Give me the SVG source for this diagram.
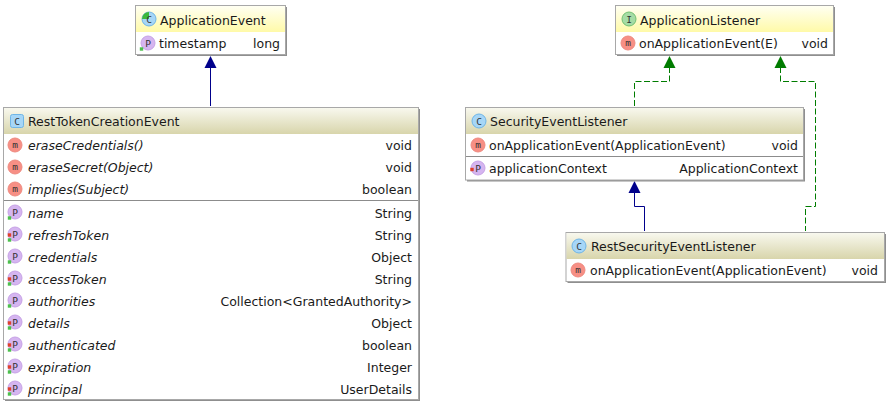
<svg xmlns="http://www.w3.org/2000/svg" width="889" height="406" viewBox="0 0 889 406">
<style>
text{font-family:"DejaVu Sans","Liberation Sans",sans-serif;font-size:12.5px;fill:#1a1a1a}
.i{font-style:italic}
.r{text-anchor:end}
.b{fill:#fff;stroke:#a8a8a8;stroke-width:1}
.sh{fill:#8f8f8f}
.sep{stroke:#8c8c8c;stroke-width:1}
text.ic{font-family:"DejaVu Sans Mono","Liberation Mono",monospace;font-size:9.500px;text-anchor:middle;fill:#333}
.blue{stroke:#00008b;fill:none;stroke-width:1}
.green{stroke:#007c00;fill:none;stroke-width:1;stroke-dasharray:6 2.500}
</style>
<defs>
<linearGradient id="y" x1="0" y1="0" x2="0" y2="1"><stop offset="0" stop-color="#fffff2"/><stop offset="1" stop-color="#fffaa8"/></linearGradient>
<linearGradient id="k" x1="0" y1="0" x2="0" y2="1"><stop offset="0" stop-color="#f8f8ee"/><stop offset="1" stop-color="#d8d5ab"/></linearGradient>
<g id="m"><circle r="7" fill="#f78f85" stroke="#ee8a80"/><text class="ic" y="3">m</text></g>
<g id="p"><circle r="7" fill="#d5b5f0" stroke="#c7a2e6"/><text class="ic" y="3.500">P</text></g>
<g id="c"><circle r="7" fill="#a6d6f7" stroke="#6fb5e6"/><text class="ic" y="3.500">C</text></g>
<rect id="pub" x="-1.700" y="-1.700" width="3.400" height="3.400" fill="#4cc04c"/>
<rect id="prv" x="-1.700" y="-1.700" width="3.400" height="3.400" fill="#e0402c"/>
<path id="blueh" d="M0 0l6 12h-12z" fill="#00008b"/>
<path id="greenh" d="M0 0l6 12h-12z" fill="#007c00"/>
</defs>
<g id="connectors">
<path class="blue" d="M210.500 67V106"/><use href="#blueh" x="210.500" y="56"/>
<path class="green" d="M669.500 67V81.500H634.500V107"/><use href="#greenh" x="669.500" y="56"/>
<path class="green" d="M780.500 67V81.500H815.500V206.500H805.500V231"/><use href="#greenh" x="780.500" y="56"/>
<path class="blue" d="M634.500 192V206.500H644.500V231"/><use href="#blueh" x="634.500" y="181"/>
</g>
<g id="ApplicationEvent">
<rect class="sh" x="137" y="7" width="150" height="49"/>
<rect class="b" x="135.500" y="5.500" width="150" height="49"/>
<rect x="136" y="6" width="149" height="26" fill="url(#y)"/>
<circle cx="149" cy="19" r="7" fill="#a6d6f7" stroke="#6fb5e6"/><path d="M149 12a7 7 0 0 0-7 7h7z" fill="#3cb83c"/><text class="ic" x="149" y="22.500">C</text>
<text x="160" y="25">ApplicationEvent</text>
<use href="#p" x="148" y="43"/><use href="#pub" x="141.500" y="49"/>
<text x="159" y="48">timestamp</text><text class="r" x="280" y="48">long</text>
</g>
<g id="ApplicationListener">
<rect class="sh" x="617" y="7" width="218" height="49"/>
<rect class="b" x="615.500" y="5.500" width="218" height="49"/>
<rect x="616" y="6" width="217" height="26" fill="url(#y)"/>
<circle cx="629" cy="19" r="7" fill="#a5dca5" stroke="#72c072"/><text class="ic" x="629" y="22.500">I</text>
<text x="640" y="25">ApplicationListener</text>
<use href="#m" x="628" y="43"/>
<text x="639" y="48">onApplicationEvent(E)</text><text class="r" x="828" y="48">void</text>
</g>
<g id="RestTokenCreationEvent">
<rect class="sh" x="5" y="109" width="415" height="292"/>
<rect class="b" x="3.500" y="107.500" width="415" height="292"/>
<rect x="4" y="108" width="414" height="26" fill="url(#k)"/>
<rect x="10.500" y="114.500" width="13" height="13" rx="2" fill="#a6d6f7" stroke="#6fb5e6"/><text class="ic" x="17" y="124.500">C</text>
<text x="28" y="126">RestTokenCreationEvent</text>
<line class="sep" x1="4" y1="200.500" x2="418" y2="200.500"/>
<use href="#m" x="15" y="145"/><text class="i" x="28" y="150">eraseCredentials()</text><text class="r" x="412" y="150">void</text>
<use href="#m" x="15" y="167"/><text class="i" x="28" y="172">eraseSecret(Object)</text><text class="r" x="412" y="172">void</text>
<use href="#m" x="15" y="189"/><text class="i" x="28" y="194">implies(Subject)</text><text class="r" x="412" y="194">boolean</text>
<use href="#p" x="15" y="212"/><use href="#pub" x="9.500" y="218"/><text class="i" x="28" y="218">name</text><text class="r" x="412" y="218">String</text>
<use href="#p" x="15" y="234"/><use href="#prv" x="9.500" y="235"/><use href="#pub" x="9.500" y="240"/><text class="i" x="28" y="240">refreshToken</text><text class="r" x="412" y="240">String</text>
<use href="#p" x="15" y="256"/><use href="#pub" x="9.500" y="262"/><text class="i" x="28" y="262">credentials</text><text class="r" x="412" y="262">Object</text>
<use href="#p" x="15" y="278"/><use href="#prv" x="9.500" y="279"/><use href="#pub" x="9.500" y="284"/><text class="i" x="28" y="284">accessToken</text><text class="r" x="412" y="284">String</text>
<use href="#p" x="15" y="300"/><use href="#pub" x="9.500" y="306"/><text class="i" x="28" y="306">authorities</text><text class="r" x="412" y="306">Collection&lt;GrantedAuthority&gt;</text>
<use href="#p" x="15" y="322"/><use href="#prv" x="9.500" y="323"/><use href="#pub" x="9.500" y="328"/><text class="i" x="28" y="328">details</text><text class="r" x="412" y="328">Object</text>
<use href="#p" x="15" y="344"/><use href="#prv" x="9.500" y="345"/><use href="#pub" x="9.500" y="350"/><text class="i" x="28" y="350">authenticated</text><text class="r" x="412" y="350">boolean</text>
<use href="#p" x="15" y="366"/><use href="#prv" x="9.500" y="367"/><use href="#pub" x="9.500" y="372"/><text class="i" x="28" y="372">expiration</text><text class="r" x="412" y="372">Integer</text>
<use href="#p" x="15" y="388"/><use href="#prv" x="9.500" y="389"/><use href="#pub" x="9.500" y="394"/><text class="i" x="28" y="394">principal</text><text class="r" x="412" y="394">UserDetails</text>
</g>
<g id="SecurityEventListener">
<rect class="sh" x="467" y="109" width="338" height="72.500"/>
<rect class="b" x="465.500" y="107.500" width="338" height="72.500"/>
<rect x="466" y="108" width="337" height="26" fill="url(#k)"/>
<use href="#c" x="479" y="121"/>
<text x="490" y="126">SecurityEventListener</text>
<use href="#m" x="478" y="145"/><text x="489" y="150">onApplicationEvent(ApplicationEvent)</text><text class="r" x="798" y="150">void</text>
<line class="sep" x1="466" y1="156.500" x2="803" y2="156.500"/>
<use href="#p" x="478" y="168"/><use href="#prv" x="472" y="169.500"/><text x="489" y="173">applicationContext</text><text class="r" x="798" y="173">ApplicationContext</text>
</g>
<g id="RestSecurityEventListener">
<rect class="sh" x="567.500" y="234" width="318.500" height="49"/>
<rect class="b" x="566" y="232.500" width="318.500" height="49"/>
<rect x="566.500" y="233" width="317.500" height="26" fill="url(#k)"/>
<use href="#c" x="579" y="246"/>
<text x="591" y="251">RestSecurityEventListener</text>
<use href="#m" x="578" y="270"/><text x="590" y="275">onApplicationEvent(ApplicationEvent)</text><text class="r" x="878" y="275">void</text>
</g>
</svg>
